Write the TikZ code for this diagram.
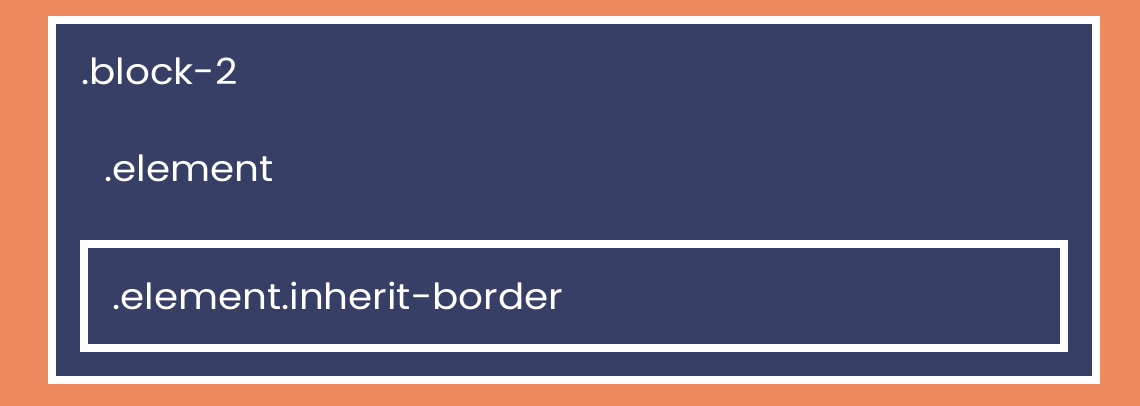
\documentclass[tikz,border=0pt]{standalone}
\usepackage{fontspec}
\setmainfont{Poppins}
\newfontfamily\labelfont[FakeStretch=1.08]{Poppins}
\usepackage{tikz}
\usetikzlibrary{positioning}

\definecolor{bgorange}{RGB}{239,138,94}
\definecolor{navy}{RGB}{55,63,102}

\begin{document}
\begin{tikzpicture}[
    x=1pt, y=-1pt,
    frame/.style={
        rectangle, draw=white, line width=8pt, fill=navy,
        inner sep=0pt
    },
    label_text/.style={
        anchor=base west, text=white, inner sep=0pt,
        font=\labelfont\fontsize{36}{40}\selectfont
    }
]

    % --- BACKGROUND ---
    \fill [bgorange] (0,0) rectangle (1140,406);
    \useasboundingbox (0,0) rectangle (1140,406);

    % --- BOXES ---
    \node [frame, minimum width=1044pt, minimum height=360pt] (block) at (574,200) {};
    \node [frame, minimum width=980pt, minimum height=104pt] (inherit) at (574,296) {};

    % --- LABELS ---
    \node [label_text] (block_lbl) at (81,85) {.block-2};
    \node [label_text] (elem_lbl) at (104,182) {.element};
    \node [label_text] (inherit_lbl) at (112,309) {.element.inherit-border};

\end{tikzpicture}
\end{document}
